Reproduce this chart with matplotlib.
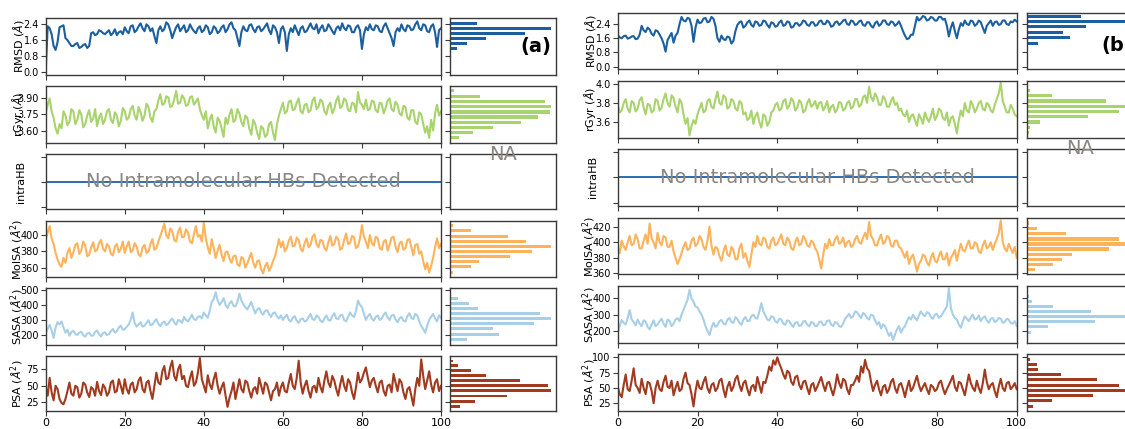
import numpy as np
import matplotlib
matplotlib.use('Agg')
import matplotlib.pyplot as plt

W, H = 1125, 429

# ---- system (a) time series, sampled every 0.5 ns over 0-100 ns ----
rmsd_a = [0.0, 2.3, 2.2, 1.9, 1.3, 1.1, 1.5, 2.25, 2.3, 2.35, 1.7, 1.6, 1.45, 1.3, 1.3, 1.4, 1.45, 1.2, 1.25, 1.35,
          1.4, 1.2, 1.3, 1.95, 2.0, 1.85, 1.9, 2.1, 2.05, 1.95, 1.9, 2.0, 2.1, 1.85, 1.95, 2.15, 1.85, 2.0, 2.05, 1.9,
          2.25, 2.05, 1.95, 2.3, 2.35, 2.0, 2.1, 2.3, 2.45, 2.2, 2.05, 2.4, 2.3, 2.05, 2.2, 1.8, 1.45, 2.1, 2.3, 2.05,
          2.15, 2.5, 2.4, 2.1, 1.7, 2.0, 2.25, 2.4, 2.05, 2.2, 2.35, 2.0, 2.1, 2.4, 2.2, 2.05, 1.95, 2.2, 2.3, 2.0,
          2.1, 2.35, 2.25, 1.9, 2.0, 2.3, 2.2, 1.95, 2.05, 2.25, 2.35, 2.0, 2.15, 2.4, 2.5, 2.2, 2.1, 1.7, 1.3, 2.0,
          2.3, 2.1, 2.05, 2.35, 2.4, 2.15, 2.0, 2.25, 2.3, 2.05, 2.15, 2.3, 2.45, 2.1, 1.9, 2.35, 2.25, 2.0, 1.45, 2.15,
          2.3, 2.0, 1.05, 1.9, 2.2, 2.0, 2.35, 2.1, 1.85, 2.2, 2.3, 2.0, 2.05, 2.25, 2.45, 2.2, 2.15, 2.4, 1.95, 2.2,
          2.35, 2.05, 2.1, 2.4, 2.25, 2.05, 1.9, 2.2, 2.3, 2.1, 2.45, 2.2, 2.1, 2.35, 2.3, 2.0, 2.0, 2.25, 2.35, 2.1,
          1.15, 1.9, 2.25, 2.1, 2.4, 2.15, 2.1, 2.35, 2.3, 2.05, 2.0, 2.3, 2.45, 2.2, 1.95, 1.7, 1.3, 2.0, 2.2, 2.05,
          2.4, 2.15, 2.05, 2.35, 2.3, 2.1, 2.15, 2.4, 2.55, 2.2, 2.1, 2.4, 2.35, 2.05, 2.0, 2.3, 2.4, 2.0, 1.25, 2.1,
          2.2]
rgyr_a = [3.76, 3.84, 3.90, 3.78, 3.72, 3.62, 3.57, 3.66, 3.62, 3.78, 3.74, 3.65, 3.68, 3.80, 3.78, 3.66, 3.70, 3.79, 3.75, 3.63,
          3.66, 3.74, 3.79, 3.68, 3.71, 3.80, 3.64, 3.72, 3.76, 3.66, 3.70, 3.78, 3.80, 3.70, 3.67, 3.77, 3.74, 3.64, 3.69, 3.81,
          3.78, 3.70, 3.72, 3.80, 3.83, 3.74, 3.70, 3.82, 3.77, 3.69, 3.74, 3.85, 3.82, 3.72, 3.68, 3.78, 3.80, 3.88, 3.94, 3.84,
          3.85, 3.92, 3.91, 3.82, 3.83, 3.89, 3.97, 3.85, 3.86, 3.93, 3.90, 3.83, 3.84, 3.91, 3.92, 3.84, 3.87, 3.90, 3.80, 3.74,
          3.70, 3.78, 3.62, 3.70, 3.75, 3.64, 3.58, 3.72, 3.69, 3.62, 3.54, 3.72, 3.66, 3.75, 3.80, 3.68, 3.70, 3.80, 3.76, 3.68,
          3.64, 3.74, 3.72, 3.62, 3.56, 3.70, 3.66, 3.58, 3.52, 3.64, 3.62, 3.54, 3.56, 3.66, 3.68, 3.58, 3.51, 3.66, 3.74, 3.80,
          3.86, 3.76, 3.78, 3.87, 3.88, 3.79, 3.80, 3.86, 3.90, 3.78, 3.76, 3.84, 3.85, 3.77, 3.79, 3.88, 3.91, 3.80, 3.82, 3.89,
          3.87, 3.78, 3.75, 3.83, 3.86, 3.76, 3.80, 3.88, 3.92, 3.81, 3.83, 3.90, 3.88, 3.79, 3.78, 3.86, 3.85, 3.77, 3.96, 3.86,
          3.84, 3.80, 3.89, 3.79, 3.80, 3.88, 3.87, 3.79, 3.77, 3.86, 3.85, 3.76, 3.81, 3.88, 3.90, 3.80, 3.78, 3.87, 3.84, 3.76,
          3.74, 3.83, 3.82, 3.72, 3.70, 3.79, 3.79, 3.68, 3.66, 3.77, 3.75, 3.66, 3.58, 3.64, 3.53, 3.70, 3.60, 3.76, 3.84, 3.74,
          3.78]
molsa_a = [394, 403, 411, 396, 389, 378, 370, 364, 361, 372, 366, 378, 384, 372, 379, 388, 390, 377, 381, 392,
           387, 374, 376, 385, 391, 380, 382, 390, 394, 383, 380, 389, 386, 377, 375, 386, 389, 379, 383, 392,
           378, 386, 392, 379, 381, 390, 386, 376, 374, 385, 388, 378, 380, 389, 395, 382, 384, 392, 399, 406,
           414, 400, 396, 408, 405, 394, 392, 404, 409, 397, 398, 407, 403, 392, 390, 401, 411, 398, 400, 392,
           415, 396, 385, 377, 395, 384, 372, 381, 388, 376, 368, 379, 380, 371, 366, 374, 375, 364, 362, 373,
           371, 360, 365, 372, 378, 366, 360, 368, 369, 358, 353, 362, 366, 356, 361, 368, 374, 384, 395, 385,
           392, 380, 384, 393, 398, 386, 387, 397, 394, 383, 380, 390, 396, 385, 388, 398, 401, 389, 385, 394,
           393, 384, 381, 391, 399, 387, 389, 398, 395, 382, 384, 394, 402, 389, 390, 399, 397, 384, 386, 396,
           412, 398, 392, 384, 400, 390, 387, 398, 396, 384, 382, 392, 394, 381, 388, 397, 398, 386, 379, 390,
           392, 382, 384, 394, 395, 385, 375, 388, 389, 377, 380, 368, 358, 366, 354, 362, 372, 385, 396, 384,
           389]
sasa_a = [211, 240, 267, 230, 180, 250, 285, 270, 290, 250, 215, 235, 195, 220, 228, 205, 200, 215, 222, 198,
          188, 210, 214, 195, 196, 220, 230, 205, 190, 212, 218, 200, 205, 225, 240, 215, 225, 250, 262, 235,
          238, 255, 270, 300, 350, 280, 255, 270, 285, 255, 262, 280, 298, 265, 270, 290, 305, 275, 258, 280,
          290, 265, 275, 295, 310, 285, 268, 300, 295, 280, 320, 300, 290, 310, 335, 305, 300, 320, 325, 310,
          350, 330, 315, 360, 420, 440, 485, 430, 400, 420, 445, 400, 380, 410, 425, 395, 390, 420, 475, 430,
          405, 385, 370, 395, 420, 380, 345, 370, 380, 350, 335, 360, 365, 340, 320, 345, 350, 325, 310, 330,
          300, 320, 335, 300, 290, 315, 325, 295, 280, 305, 310, 290, 295, 320, 340, 305, 300, 330, 320, 295,
          285, 310, 330, 300, 295, 325, 345, 310, 305, 330, 335, 300, 290, 320, 350, 330, 320, 360, 430, 400,
          385, 340, 300, 325, 340, 310, 295, 320, 330, 300, 310, 335, 350, 315, 300, 330, 335, 305, 285, 310,
          320, 295, 290, 325, 345, 315, 305, 340, 330, 290, 260, 240, 215, 260, 300, 320, 340, 310, 290, 330,
          315]
psa_a = [49, 35, 62, 40, 28, 50, 45, 30, 24, 22, 30, 42, 55, 38, 35, 50, 48, 32, 38, 55,
         52, 40, 33, 48, 45, 35, 56, 42, 36, 52, 47, 35, 40, 55, 58, 40, 42, 60, 50, 38,
         60, 45, 38, 52, 55, 40, 45, 58, 63, 45, 40, 55, 58, 42, 30, 50, 70, 55, 52, 72,
         80, 60, 62, 78, 88, 65, 58, 75, 82, 60, 65, 50, 48, 62, 72, 50, 55, 70, 92, 60,
         50, 40, 66, 52, 45, 60, 70, 50, 38, 48, 55, 35, 18, 32, 42, 55, 30, 45, 60, 45,
         40, 58, 55, 42, 32, 45, 48, 38, 62, 50, 38, 55, 52, 40, 28, 42, 45, 55, 35, 48,
         55, 42, 40, 55, 68, 50, 45, 62, 88, 55, 38, 50, 58, 42, 32, 48, 50, 40, 62, 48,
         40, 58, 72, 55, 48, 65, 58, 45, 35, 52, 65, 50, 42, 60, 55, 40, 30, 48, 70, 55,
         60, 70, 78, 62, 48, 58, 62, 50, 40, 55, 58, 42, 35, 50, 52, 40, 68, 55, 42, 60,
         55, 40, 30, 45, 48, 35, 20, 45, 62, 50, 90, 65, 45, 58, 72, 52, 40, 55, 60, 42,
         50]

# ---- system (b) time series ----
rmsd_b = [1.78, 1.65, 1.6, 1.72, 1.75, 1.58, 1.62, 1.7, 1.72, 1.55, 1.58, 1.8, 2.3, 2.05, 1.95, 2.2, 2.1, 1.85, 1.75, 2.05,
          2.0, 1.8, 1.6, 1.3, 0.85, 1.5, 1.7, 1.9, 1.35, 1.75, 1.9, 2.4, 2.8, 2.6, 2.55, 2.75, 2.7, 2.3, 1.4, 2.2,
          2.65, 2.45, 2.5, 2.7, 2.75, 2.5, 2.55, 2.8, 2.7, 2.3, 1.6, 1.4, 1.75, 1.55, 1.5, 1.7, 1.65, 1.3, 1.45, 2.0,
          2.35, 2.5, 2.55, 2.2, 2.3, 2.5, 2.6, 2.35, 2.25, 2.55, 2.5, 2.3, 2.35, 2.6, 2.55, 2.35, 2.2, 2.5, 2.45, 2.25,
          2.3, 2.5, 2.6, 2.3, 2.35, 2.55, 2.5, 2.2, 2.25, 2.45, 2.45, 2.3, 2.4, 2.6, 2.55, 2.35, 2.3, 2.5, 2.5, 2.3,
          2.35, 2.55, 2.6, 2.4, 2.4, 2.6, 2.5, 2.25, 2.3, 2.5, 2.55, 2.35, 2.45, 2.6, 2.65, 2.4, 2.35, 2.6, 2.55, 2.35,
          2.4, 2.55, 2.6, 2.35, 2.3, 2.5, 2.5, 2.3, 2.2, 2.45, 2.55, 2.3, 2.4, 2.6, 2.6, 2.4, 2.35, 2.55, 2.5, 2.3,
          2.4, 2.55, 2.3, 2.0, 1.75, 1.55, 1.6, 1.8, 1.8, 2.3, 2.8, 2.6, 2.7, 2.85, 2.8, 2.6, 2.65, 2.8, 2.75, 2.6,
          2.6, 2.8, 2.8, 2.65, 2.7, 2.3, 1.7, 2.2, 2.5, 2.0, 1.6, 2.1, 2.45, 2.3, 2.6, 2.4, 2.35, 2.6, 2.55, 2.3,
          2.4, 2.6, 2.5, 2.2, 1.9, 2.3, 2.45, 2.6, 2.3, 2.5, 2.55, 2.35, 2.4, 2.6, 2.6, 2.4, 2.35, 2.55, 2.5, 2.65,
          2.55]
rgyr_b = [3.78, 3.70, 3.72, 3.80, 3.84, 3.74, 3.70, 3.82, 3.80, 3.71, 3.74, 3.83, 3.86, 3.75, 3.68, 3.79, 3.78, 3.70, 3.72, 3.84,
          3.82, 3.72, 3.75, 3.84, 3.90, 3.80, 3.76, 3.88, 3.85, 3.76, 3.70, 3.84, 3.80, 3.68, 3.58, 3.64, 3.46, 3.56, 3.62, 3.58,
          3.68, 3.74, 3.80, 3.70, 3.72, 3.82, 3.84, 3.76, 3.74, 3.84, 3.92, 3.80, 3.78, 3.88, 3.86, 3.74, 3.76, 3.84, 3.82, 3.74,
          3.72, 3.82, 3.80, 3.68, 3.70, 3.62, 3.64, 3.72, 3.58, 3.66, 3.70, 3.60, 3.54, 3.68, 3.66, 3.56, 3.60, 3.70, 3.72, 3.78,
          3.80, 3.72, 3.74, 3.82, 3.84, 3.74, 3.77, 3.85, 3.82, 3.72, 3.75, 3.83, 3.80, 3.70, 3.72, 3.80, 3.84, 3.76, 3.78, 3.82,
          3.74, 3.80, 3.81, 3.72, 3.76, 3.82, 3.70, 3.76, 3.78, 3.70, 3.73, 3.81, 3.80, 3.72, 3.74, 3.80, 3.82, 3.74, 3.76, 3.84,
          3.84, 3.76, 3.78, 3.86, 3.88, 3.80, 3.97, 3.86, 3.82, 3.90, 3.86, 3.78, 3.78, 3.87, 3.84, 3.76, 3.76, 3.82, 3.86, 3.78,
          3.80, 3.72, 3.74, 3.68, 3.66, 3.72, 3.60, 3.66, 3.68, 3.62, 3.56, 3.68, 3.64, 3.58, 3.70, 3.64, 3.60, 3.66, 3.74, 3.62,
          3.66, 3.74, 3.72, 3.64, 3.62, 3.70, 3.56, 3.64, 3.66, 3.58, 3.48, 3.62, 3.72, 3.66, 3.80, 3.72, 3.70, 3.82, 3.78, 3.70,
          3.74, 3.80, 3.82, 3.74, 3.72, 3.80, 3.78, 3.72, 3.70, 3.78, 3.84, 3.90, 4.01, 3.82, 3.76, 3.70, 3.70, 3.78, 3.74, 3.68,
          3.66]
molsa_b = [394, 386, 402, 395, 390, 400, 408, 396, 398, 410, 404, 392, 392, 402, 410, 398, 424, 405, 400, 392,
           412, 400, 396, 408, 406, 394, 394, 402, 388, 380, 372, 378, 386, 394, 400, 390, 392, 402, 406, 395,
           398, 408, 404, 394, 390, 402, 420, 396, 384, 394, 392, 382, 376, 388, 396, 384, 382, 394, 390, 378,
           378, 392, 398, 380, 386, 376, 368, 384, 400, 394, 408, 398, 396, 406, 404, 394, 392, 402, 406, 396,
           398, 404, 410, 398, 396, 406, 402, 392, 390, 400, 406, 396, 398, 408, 404, 396, 394, 402, 400, 392,
           388, 378, 366, 384, 398, 392, 404, 396, 396, 404, 408, 398, 400, 406, 394, 400, 402, 394, 396, 404,
           408, 400, 398, 406, 412, 404, 426, 408, 404, 396, 396, 404, 410, 398, 400, 408, 406, 396, 394, 402,
           402, 394, 392, 386, 380, 388, 372, 380, 384, 374, 362, 372, 376, 384, 382, 374, 370, 380, 386, 376,
           374, 382, 388, 378, 378, 386, 370, 380, 384, 390, 376, 388, 398, 390, 388, 396, 402, 392, 392, 400,
           398, 388, 386, 396, 402, 392, 394, 400, 390, 398, 404, 412, 428, 400, 392, 388, 398, 392, 386, 394,
           380]
sasa_b = [186, 230, 267, 250, 240, 280, 328, 270, 255, 235, 270, 245, 230, 265, 258, 225, 210, 240, 265, 230,
          240, 260, 275, 245, 225, 270, 262, 230, 245, 270, 278, 260, 300, 330, 360, 390, 451, 400, 380, 350,
          345, 320, 300, 270, 230, 200, 175, 220, 250, 225, 235, 260, 268, 245, 240, 270, 280, 255, 250, 285,
          272, 250, 238, 270, 285, 260, 262, 290, 300, 280, 275, 320, 371, 320, 295, 270, 265, 290, 285, 260,
          250, 275, 270, 245, 238, 265, 260, 240, 225, 250, 255, 230, 235, 258, 262, 238, 228, 255, 250, 230,
          232, 255, 258, 235, 240, 262, 265, 240, 230, 255, 250, 230, 225, 245, 275, 290, 305, 280, 290, 320,
          315, 295, 280, 310, 300, 280, 270, 300, 295, 265, 240, 255, 215, 240, 230, 200, 170, 190, 145, 180,
          210, 230, 190, 215, 230, 260, 285, 270, 300, 280, 265, 295, 320, 300, 290, 315, 310, 285, 275, 300,
          305, 280, 290, 310, 330, 350, 461, 340, 300, 280, 270, 240, 220, 260, 290, 275, 260, 285, 300, 270,
          275, 295, 260, 280, 290, 265, 250, 275, 280, 255, 262, 280, 275, 250, 255, 275, 270, 250, 245, 260,
          230]
psa_b = [52, 40, 35, 55, 72, 48, 45, 62, 82, 55, 50, 42, 65, 50, 40, 60, 58, 45, 25, 50,
         62, 48, 45, 60, 70, 52, 50, 62, 38, 50, 60, 45, 48, 65, 75, 58, 55, 40, 20, 45,
         62, 50, 48, 60, 68, 50, 42, 55, 58, 45, 50, 62, 65, 48, 35, 52, 60, 45, 52, 65,
         70, 55, 45, 58, 62, 48, 38, 52, 55, 45, 68, 55, 42, 60, 58, 70, 85, 78, 95, 88,
         100, 90, 82, 72, 65, 78, 75, 60, 55, 68, 70, 55, 48, 60, 62, 50, 40, 55, 58, 45,
         52, 60, 68, 55, 45, 58, 60, 48, 38, 52, 72, 58, 50, 65, 62, 48, 40, 55, 55, 62,
         70, 60, 85, 75, 96, 82, 78, 60, 45, 55, 62, 48, 38, 52, 55, 42, 48, 60, 65, 50,
         42, 55, 58, 48, 35, 50, 62, 45, 50, 60, 70, 55, 45, 52, 58, 48, 40, 55, 52, 45,
         48, 58, 62, 50, 40, 48, 55, 62, 70, 52, 45, 60, 58, 48, 38, 55, 72, 58, 50, 45,
         62, 50, 42, 58, 80, 60, 48, 55, 58, 45, 35, 52, 65, 50, 45, 58, 60, 48, 52, 58,
         48]

# ---- histogram bins (centres) and relative counts ----
rmsd_a_bins = [2.45, 2.2, 1.94, 1.67, 1.41, 1.16]
rmsd_a_counts = [82, 302, 223, 108, 52, 22]
rgyr_a_bins = [3.972, 3.919, 3.872, 3.824, 3.773, 3.726, 3.676, 3.629, 3.581, 3.534]
rgyr_a_counts = [12, 90, 285, 302, 300, 263, 212, 130, 70, 28]
molsa_a_bins = [411.4, 405.3, 398.8, 392.6, 386.5, 380.0, 373.4, 367.3, 361.2, 354.6]
molsa_a_counts = [8, 62, 173, 226, 302, 246, 178, 86, 62, 8]
sasa_a_bins = [444.8, 411.4, 378.0, 342.0, 308.7, 273.4, 240.0, 204.7, 171.3]
sasa_a_counts = [25, 57, 85, 268, 302, 250, 128, 147, 52]
psa_a_bins = [87.6, 80.5, 73.5, 65.3, 57.7, 50.2, 42.6, 34.6, 26.5, 18.3]
psa_a_counts = [8, 25, 62, 108, 208, 292, 302, 170, 74, 30]

rmsd_b_bins = [2.81, 2.53, 2.25, 1.91, 1.63, 1.31]
rmsd_b_counts = [163, 302, 177, 110, 130, 35]
rgyr_b_bins = [3.93, 3.875, 3.82, 3.765, 3.71, 3.655, 3.60, 3.545, 3.49]
rgyr_b_counts = [10, 75, 237, 302, 275, 182, 40, 10, 6]
molsa_b_bins = [424.9, 417.7, 411.2, 404.3, 397.8, 391.4, 384.1, 377.7, 371.2, 364.8]
molsa_b_counts = [7, 30, 118, 277, 302, 245, 135, 107, 78, 25]
sasa_b_bins = [440.5, 410.0, 379.0, 349.0, 318.0, 287.5, 257.0, 226.0, 192.0, 161.0]
sasa_b_counts = [5, 7, 15, 78, 192, 302, 203, 65, 12, 5]
psa_b_bins = [96.1, 88.0, 79.8, 71.7, 63.5, 54.2, 46.1, 37.4, 29.3, 19.9]
psa_b_counts = [10, 30, 33, 102, 211, 277, 302, 197, 77, 18]

ylabels = ['RMSD ($\\AA$)', 'rGyr ($\\AA$)', 'intraHB',
           'MolSA ($\\AA^2$)', 'SASA ($\\AA^2$)', 'PSA ($\\AA^2$)']
xticks = [0, 20, 40, 60, 80, 100]

colors = ['#1c5f9e', '#a9d36d', None, '#fdb35c', '#a8cfe8', '#a13b20']
TEXT_GRAY = '#8a8580'
SPINE = '#3a3a3a'


def px_axes(fig, left, top, width, height):
    # axes placed in pixel units measured from the top left corner
    return fig.add_axes([left / W, 1 - (top + height) / H, width / W, height / H])


def style(ax):
    for s in ax.spines.values():
        s.set_color(SPINE)
        s.set_linewidth(1.0)
    ax.tick_params(direction='out', length=3.5, width=0.8, color=SPINE,
                   labelsize=7, pad=1.5)


def draw_panel(fig, ts_left, ts_width, hist_left, rows, series, hists,
               ylims, yticks, fmts, tag, tag_xy):
    hist_width = 106
    for i, (top, bottom) in enumerate(rows):
        ax = px_axes(fig, ts_left, top, ts_width, bottom - top)
        hx = px_axes(fig, hist_left, top, hist_width, bottom - top)
        style(ax)
        style(hx)
        ax.set_xlim(0, 100)
        ax.set_xticks(xticks)
        if i == len(rows) - 1:
            ax.tick_params(axis='x', labelsize=8)
        else:
            ax.set_xticklabels([])

        if series[i] is None:
            # no intramolecular hydrogen bonds: flat line plus note
            ax.plot([0, 100], [0, 0], color='#2a6db0', lw=1.4)
            ax.set_ylim(-0.055, 0.055)
            ax.set_yticks([-0.05, 0, 0.05])
            ax.set_yticklabels([])
            ax.text(0.5, 0.5, 'No Intramolecular HBs Detected', transform=ax.transAxes,
                    ha='center', va='center', fontsize=14, color=TEXT_GRAY)
            hx.set_ylim(-0.055, 0.055)
            hx.set_yticks([-0.05, 0, 0.05])
            hx.text(0.5, 1.0, 'NA', transform=hx.transAxes, ha='center',
                    va='center', fontsize=14, color=TEXT_GRAY)
        else:
            y = np.asarray(series[i], dtype=float)
            t = np.linspace(0, 100, len(y))
            ax.plot(t, y, color=colors[i], lw=1.5)
            ax.set_ylim(*ylims[i])
            ax.set_yticks(yticks[i])
            ax.set_yticklabels([fmts[i] % v for v in yticks[i]])

            bins, counts = hists[i]
            width = abs(bins[0] - bins[1]) * 0.6
            hx.barh(bins, counts, height=width, color=colors[i])
            hx.set_xlim(0, max(counts) * 1.05)
            hx.set_ylim(*ylims[i])
            hx.set_yticks(yticks[i])

        hx.set_yticklabels([])
        hx.set_xticks([])
        ax.set_ylabel(ylabels[i], fontsize=8)
        ax.yaxis.set_label_coords(-20.0 / ts_width, 0.5)

        if i == 0:
            hx.text(tag_xy[0], tag_xy[1], tag, transform=hx.transAxes,
                    ha='center', va='center', fontsize=14, fontweight='bold')


fig = plt.figure(figsize=(W / 100, H / 100), dpi=100)

draw_panel(fig, 45.7, 395.3, 450,
           [(18, 75), (86, 142.7), (154, 209), (221, 277), (288, 345), (356, 411)],
           [rmsd_a, rgyr_a, None, molsa_a, sasa_a, psa_a],
           [(rmsd_a_bins, rmsd_a_counts), (rgyr_a_bins, rgyr_a_counts), None,
            (molsa_a_bins, molsa_a_counts), (sasa_a_bins, sasa_a_counts),
            (psa_a_bins, psa_a_counts)],
           [(-0.17, 2.72), (3.486, 4.016), None, (348.6, 417.2), (133, 513), (11.8, 95.2)],
           [[0.0, 0.8, 1.6, 2.4], [3.60, 3.75, 3.90], None, [360, 380, 400],
            [200, 300, 400, 500], [25, 50, 75]],
           ['%.1f', '%.2f', None, '%d', '%d', '%d'],
           '(a)', (0.81, 0.5))

draw_panel(fig, 617.7, 399, 1026.7,
           [(12.7, 69), (81, 137.7), (149, 205.7), (217.7, 274), (285.7, 343), (354, 411)],
           [rmsd_b, rgyr_b, None, molsa_b, sasa_b, psa_b],
           [(rmsd_b_bins, rmsd_b_counts), (rgyr_b_bins, rgyr_b_counts), None,
            (molsa_b_bins, molsa_b_counts), (sasa_b_bins, sasa_b_counts),
            (psa_b_bins, psa_b_counts)],
           [(-0.13, 3.04), (3.435, 4.03), None, (359, 431.6), (126.6, 477), (12.5, 105.4)],
           [[0.0, 0.8, 1.6, 2.4], [3.6, 3.8, 4.0], None, [360, 380, 400, 420],
            [200, 300, 400], [25, 50, 75, 100]],
           ['%.1f', '%.1f', None, '%d', '%d', '%d'],
           '(b)', (0.85, 0.41))

fig.savefig('out.png', dpi=100)
